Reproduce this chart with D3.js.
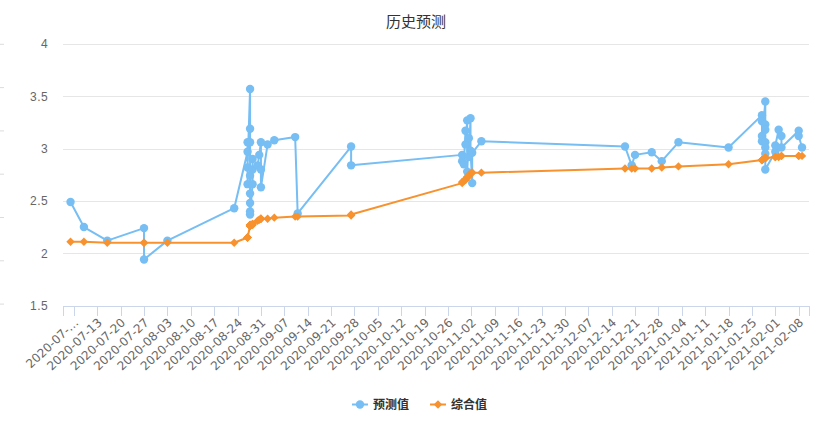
<!DOCTYPE html>
<html><head><meta charset="utf-8">
<script src="https://cdn.jsdelivr.net/npm/d3@7/dist/d3.min.js"></script>
<style>
html,body{margin:0;padding:0;background:#fff;}
svg{display:block;font-family:"Lucida Grande","Lucida Sans Unicode",Arial,Helvetica,"Noto Sans CJK SC",sans-serif;}
</style></head>
<body><svg id="c" width="824" height="423"></svg>
<script>
const title = "历史预测";
const seriesNames = ["预测值", "综合值"];
const seriesColors = ["#76bef3", "#f7922e"];
const dates = [
"2020-07-05 00:00","2020-07-09 00:00","2020-07-16 00:00","2020-07-27 00:00","2020-07-27 00:00",
"2020-08-03 00:00","2020-08-23 00:00",
"2020-08-27 00:00","2020-08-27 00:00","2020-08-27 00:00","2020-08-27 00:00",
"2020-08-27 18:00","2020-08-27 18:00","2020-08-27 18:00","2020-08-27 18:00","2020-08-27 18:00",
"2020-08-27 18:00","2020-08-27 18:00","2020-08-27 18:00",
"2020-08-28 12:00","2020-08-28 12:00","2020-08-28 12:00",
"2020-08-30 00:00","2020-08-30 12:00",
"2020-08-31 00:00","2020-08-31 00:00","2020-08-31 00:00",
"2020-09-02 00:00","2020-09-04 00:00","2020-09-10 06:00","2020-09-11 00:00",
"2020-09-27 00:00","2020-09-27 00:00",
"2020-10-30 06:00","2020-10-30 06:00","2020-10-30 18:00","2020-10-31 06:00","2020-10-31 06:00",
"2020-10-31 18:00","2020-10-31 18:00","2020-11-01 06:00","2020-11-01 06:00","2020-11-01 18:00",
"2020-11-01 18:00","2020-11-02 06:00","2020-11-02 06:00","2020-11-05 00:00",
"2020-12-18 00:00","2020-12-20 00:00","2020-12-21 00:00","2020-12-26 00:00","2020-12-29 00:00",
"2021-01-03 00:00","2021-01-18 00:00",
"2021-01-28 00:00","2021-01-28 00:00","2021-01-28 00:00","2021-01-28 00:00",
"2021-01-29 00:00","2021-01-29 00:00","2021-01-29 00:00","2021-01-29 00:00","2021-01-29 00:00",
"2021-01-29 00:00","2021-01-29 00:00",
"2021-02-01 00:00","2021-02-01 00:00","2021-02-02 00:00","2021-02-02 20:00","2021-02-02 20:00",
"2021-02-08 00:00","2021-02-08 00:00","2021-02-09 00:00"
];
const predicted = [
2.49,2.25,2.12,2.24,1.94,
2.12,2.43,
2.97,3.06,2.66,2.82,
3.57,3.19,3.06,2.74,2.57,
2.48,2.40,2.37,
2.66,2.90,2.80,
2.84,2.94,
3.06,2.80,2.63,
3.04,3.08,3.11,2.38,
3.02,2.84,
2.94,2.88,2.85,3.17,3.04,
3.27,2.78,3.10,2.92,3.29,
2.98,2.67,2.96,3.07,
3.02,2.84,2.94,2.965,2.88,
3.06,3.01,
3.32,3.26,3.12,3.07,
3.45,3.23,3.18,3.06,3.01,
2.95,2.80,
2.97,3.03,3.18,3.12,3.01,
3.17,3.12,3.01
];
const composite = [
2.11,2.11,2.10,2.10,2.10,
2.10,2.10,
2.15,2.15,2.15,2.15,
2.26,2.26,2.26,2.27,2.27,
2.27,2.27,2.27,
2.27,2.28,2.28,
2.31,2.32,
2.33,2.33,2.33,
2.33,2.34,2.35,2.35,
2.36,2.37,
2.67,2.68,2.69,2.70,2.71,
2.72,2.73,2.74,2.75,2.76,
2.76,2.77,2.77,2.77,
2.81,2.81,2.81,2.81,2.82,
2.83,2.85,
2.89,2.89,2.89,2.89,
2.91,2.91,2.91,2.91,2.91,
2.91,2.91,
2.92,2.92,2.92,2.93,2.93,
2.93,2.93,2.93
];
const tickLabels = [
"2020-07-06","2020-07-13","2020-07-20","2020-07-27","2020-08-03","2020-08-10","2020-08-17",
"2020-08-24","2020-08-31","2020-09-07","2020-09-14","2020-09-21","2020-09-28","2020-10-05",
"2020-10-12","2020-10-19","2020-10-26","2020-11-02","2020-11-09","2020-11-16","2020-11-23",
"2020-11-30","2020-12-07","2020-12-14","2020-12-21","2020-12-28","2021-01-04","2021-01-11",
"2021-01-18","2021-01-25","2021-02-01","2021-02-08"
];
const yTicks = [1.5, 2, 2.5, 3, 3.5, 4];

const parse = d3.timeParse("%Y-%m-%d %H:%M");
const parseDay = d3.timeParse("%Y-%m-%d");
const svg = d3.select("#c");
const L = 63.3, R = 809, T = 44, B = 305.5;

const x = d3.scaleTime()
  .domain([parse("2020-07-02 20:00"), parse("2021-02-11 02:00")])
  .range([L, R]);
const y = d3.scaleLinear().domain([1.5, 4]).range([B, T]);

// faint marks at far left edge
svg.append("g").selectAll("line").data(d3.range(7)).join("line")
  .attr("x1", 0).attr("x2", 4)
  .attr("y1", d => 44.3 + d * 43.3).attr("y2", d => 44.3 + d * 43.3)
  .attr("stroke", "#dcdcdc").attr("stroke-width", 1);

// title
svg.append("text").attr("x", 416).attr("y", 27).attr("text-anchor", "middle")
  .attr("font-size", 15).attr("fill", "#333").text(title);

// grid
const yAxis = d3.axisLeft(y).tickValues(yTicks).tickSize(-(R - L)).tickFormat(d3.format("")).tickPadding(15);
const gy = svg.append("g").attr("transform", `translate(${L},0)`).call(yAxis);
gy.select(".domain").remove();
gy.selectAll(".tick line").attr("stroke", "#e6e6e6").attr("shape-rendering", "crispEdges");
gy.selectAll(".tick text").attr("fill", "#666").attr("font-size", 12)
  .attr("font-family", "inherit").attr("letter-spacing", 0.5);

// x axis
const tickDates = tickLabels.map(parseDay);
const xAxis = d3.axisBottom(x).tickValues(tickDates).tickSize(10)
  .tickFormat((d, i) => i === 0 ? tickLabels[i].slice(0, 8) + "…" : tickLabels[i]);
const gx = svg.append("g").attr("transform", `translate(0,${B})`).call(xAxis);
gx.select(".domain").attr("stroke", "#ccd6eb").attr("shape-rendering", "crispEdges");
gx.selectAll(".tick line").attr("stroke", "#ccd6eb").attr("shape-rendering", "crispEdges");
gx.selectAll(".tick text").attr("fill", "#666").attr("font-size", 12)
  .attr("font-family", "'DejaVu Sans',sans-serif")
  .attr("text-anchor", "end").attr("dy", null).attr("y", 0)
  .attr("transform", "translate(5,18) rotate(-43)");

const pts = dates.map((d, i) => ({t: parse(d), p: predicted[i], c: composite[i]}));

const plot = svg.append("g");
const line = key => d3.line().x(d => x(d.t)).y(d => y(d[key]));

// predicted
plot.append("path").datum(pts).attr("d", line("p")).attr("fill", "none")
  .attr("stroke", seriesColors[0]).attr("stroke-width", 2).attr("stroke-linejoin", "round");
plot.append("g").selectAll("circle").data(pts).join("circle")
  .attr("cx", d => x(d.t)).attr("cy", d => y(d.p)).attr("r", 4.2).attr("fill", seriesColors[0]);

// composite
const diamond = (cx, cy, r) => `M${cx},${cy - r}L${cx + r},${cy}L${cx},${cy + r}L${cx - r},${cy}Z`;
plot.append("path").datum(pts).attr("d", line("c")).attr("fill", "none")
  .attr("stroke", seriesColors[1]).attr("stroke-width", 2).attr("stroke-linejoin", "round");
plot.append("g").selectAll("path").data(pts).join("path")
  .attr("d", d => diamond(x(d.t), y(d.c), 4.2)).attr("fill", seriesColors[1]);

// legend
const leg = [{x: 352, name: seriesNames[0], color: seriesColors[0], shape: "circle"},
             {x: 430, name: seriesNames[1], color: seriesColors[1], shape: "diamond"}];
const lg = svg.append("g");
leg.forEach(it => {
  const cy = 404.5;
  lg.append("line").attr("x1", it.x).attr("x2", it.x + 16).attr("y1", cy).attr("y2", cy)
    .attr("stroke", it.color).attr("stroke-width", 2);
  if (it.shape === "circle") lg.append("circle").attr("cx", it.x + 8).attr("cy", cy).attr("r", 4.2).attr("fill", it.color);
  else lg.append("path").attr("d", diamond(it.x + 8, cy, 4.2)).attr("fill", it.color);
  lg.append("text").attr("x", it.x + 21).attr("y", cy + 4.5).attr("font-size", 12).attr("font-weight", "bold")
    .attr("fill", "#333").text(it.name);
});
</script></body></html>
